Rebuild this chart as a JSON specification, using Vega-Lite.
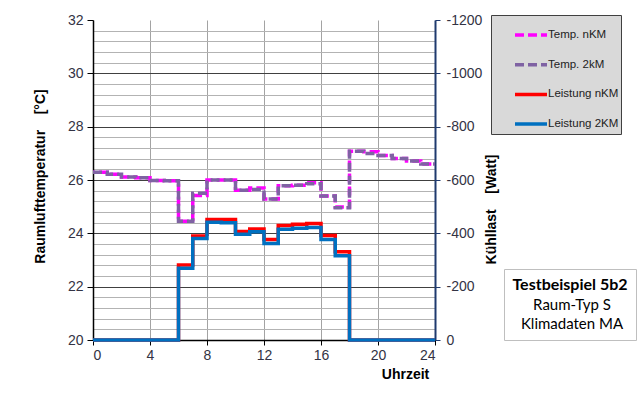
{
  "$schema": "https://vega.github.io/schema/vega-lite/v6.json",
  "width": 342,
  "height": 320,
  "autosize": {"type": "none"},
  "padding": {"left": 93, "top": 20, "right": 208, "bottom": 67},
  "background": "white",
  "datasets": {
    "series": [
      {"hour": 0, "series": "Temp. nKM", "value": 26.29},
      {"hour": 1, "series": "Temp. nKM", "value": 26.22},
      {"hour": 2, "series": "Temp. nKM", "value": 26.11},
      {"hour": 3, "series": "Temp. nKM", "value": 26.08},
      {"hour": 4, "series": "Temp. nKM", "value": 25.98},
      {"hour": 5, "series": "Temp. nKM", "value": 25.97},
      {"hour": 6, "series": "Temp. nKM", "value": 24.45},
      {"hour": 7, "series": "Temp. nKM", "value": 25.42},
      {"hour": 8, "series": "Temp. nKM", "value": 26.0},
      {"hour": 9, "series": "Temp. nKM", "value": 26.0},
      {"hour": 10, "series": "Temp. nKM", "value": 25.62},
      {"hour": 11, "series": "Temp. nKM", "value": 25.7},
      {"hour": 12, "series": "Temp. nKM", "value": 25.29},
      {"hour": 13, "series": "Temp. nKM", "value": 25.78},
      {"hour": 14, "series": "Temp. nKM", "value": 25.8},
      {"hour": 15, "series": "Temp. nKM", "value": 25.9},
      {"hour": 16, "series": "Temp. nKM", "value": 25.4},
      {"hour": 17, "series": "Temp. nKM", "value": 24.99},
      {"hour": 18, "series": "Temp. nKM", "value": 27.08},
      {"hour": 19, "series": "Temp. nKM", "value": 27.06},
      {"hour": 20, "series": "Temp. nKM", "value": 26.92},
      {"hour": 21, "series": "Temp. nKM", "value": 26.81},
      {"hour": 22, "series": "Temp. nKM", "value": 26.71},
      {"hour": 23, "series": "Temp. nKM", "value": 26.6},
      {"hour": 24, "series": "Temp. nKM", "value": 26.6},
      {"hour": 0, "series": "Temp. 2kM", "value": 26.29},
      {"hour": 1, "series": "Temp. 2kM", "value": 26.22},
      {"hour": 2, "series": "Temp. 2kM", "value": 26.11},
      {"hour": 3, "series": "Temp. 2kM", "value": 26.08},
      {"hour": 4, "series": "Temp. 2kM", "value": 25.98},
      {"hour": 5, "series": "Temp. 2kM", "value": 25.97},
      {"hour": 6, "series": "Temp. 2kM", "value": 24.45},
      {"hour": 7, "series": "Temp. 2kM", "value": 25.5},
      {"hour": 8, "series": "Temp. 2kM", "value": 26.0},
      {"hour": 9, "series": "Temp. 2kM", "value": 26.0},
      {"hour": 10, "series": "Temp. 2kM", "value": 25.62},
      {"hour": 11, "series": "Temp. 2kM", "value": 25.64},
      {"hour": 12, "series": "Temp. 2kM", "value": 25.29},
      {"hour": 13, "series": "Temp. 2kM", "value": 25.78},
      {"hour": 14, "series": "Temp. 2kM", "value": 25.8},
      {"hour": 15, "series": "Temp. 2kM", "value": 25.86},
      {"hour": 16, "series": "Temp. 2kM", "value": 25.4},
      {"hour": 17, "series": "Temp. 2kM", "value": 24.96},
      {"hour": 18, "series": "Temp. 2kM", "value": 27.08},
      {"hour": 19, "series": "Temp. 2kM", "value": 26.99},
      {"hour": 20, "series": "Temp. 2kM", "value": 26.92},
      {"hour": 21, "series": "Temp. 2kM", "value": 26.81},
      {"hour": 22, "series": "Temp. 2kM", "value": 26.71},
      {"hour": 23, "series": "Temp. 2kM", "value": 26.6},
      {"hour": 24, "series": "Temp. 2kM", "value": 26.6},
      {"hour": 0, "series": "Leistung nKM", "value": 0},
      {"hour": 1, "series": "Leistung nKM", "value": 0},
      {"hour": 2, "series": "Leistung nKM", "value": 0},
      {"hour": 3, "series": "Leistung nKM", "value": 0},
      {"hour": 4, "series": "Leistung nKM", "value": 0},
      {"hour": 5, "series": "Leistung nKM", "value": 0},
      {"hour": 6, "series": "Leistung nKM", "value": -281},
      {"hour": 7, "series": "Leistung nKM", "value": -390},
      {"hour": 8, "series": "Leistung nKM", "value": -452},
      {"hour": 9, "series": "Leistung nKM", "value": -452},
      {"hour": 10, "series": "Leistung nKM", "value": -407},
      {"hour": 11, "series": "Leistung nKM", "value": -416},
      {"hour": 12, "series": "Leistung nKM", "value": -377},
      {"hour": 13, "series": "Leistung nKM", "value": -429},
      {"hour": 14, "series": "Leistung nKM", "value": -434},
      {"hour": 15, "series": "Leistung nKM", "value": -437},
      {"hour": 16, "series": "Leistung nKM", "value": -392},
      {"hour": 17, "series": "Leistung nKM", "value": -331},
      {"hour": 18, "series": "Leistung nKM", "value": 0},
      {"hour": 19, "series": "Leistung nKM", "value": 0},
      {"hour": 20, "series": "Leistung nKM", "value": 0},
      {"hour": 21, "series": "Leistung nKM", "value": 0},
      {"hour": 22, "series": "Leistung nKM", "value": 0},
      {"hour": 23, "series": "Leistung nKM", "value": 0},
      {"hour": 24, "series": "Leistung nKM", "value": 0},
      {"hour": 0, "series": "Leistung 2KM", "value": 0},
      {"hour": 1, "series": "Leistung 2KM", "value": 0},
      {"hour": 2, "series": "Leistung 2KM", "value": 0},
      {"hour": 3, "series": "Leistung 2KM", "value": 0},
      {"hour": 4, "series": "Leistung 2KM", "value": 0},
      {"hour": 5, "series": "Leistung 2KM", "value": 0},
      {"hour": 6, "series": "Leistung 2KM", "value": -269},
      {"hour": 7, "series": "Leistung 2KM", "value": -381},
      {"hour": 8, "series": "Leistung 2KM", "value": -442},
      {"hour": 9, "series": "Leistung 2KM", "value": -440},
      {"hour": 10, "series": "Leistung 2KM", "value": -397},
      {"hour": 11, "series": "Leistung 2KM", "value": -406},
      {"hour": 12, "series": "Leistung 2KM", "value": -362},
      {"hour": 13, "series": "Leistung 2KM", "value": -415},
      {"hour": 14, "series": "Leistung 2KM", "value": -419},
      {"hour": 15, "series": "Leistung 2KM", "value": -422},
      {"hour": 16, "series": "Leistung 2KM", "value": -377},
      {"hour": 17, "series": "Leistung 2KM", "value": -316},
      {"hour": 18, "series": "Leistung 2KM", "value": 0},
      {"hour": 19, "series": "Leistung 2KM", "value": 0},
      {"hour": 20, "series": "Leistung 2KM", "value": 0},
      {"hour": 21, "series": "Leistung 2KM", "value": 0},
      {"hour": 22, "series": "Leistung 2KM", "value": 0},
      {"hour": 23, "series": "Leistung 2KM", "value": 0},
      {"hour": 24, "series": "Leistung 2KM", "value": 0}
    ],
    "info": [
      {"info": "Raum-Typ S"},
      {"info": "Klimadaten MA"}
    ]
  },
  "layer": [
    {
      "data": {"name": "series"},
      "encoding": {
        "x": {
          "field": "hour", "type": "quantitative",
          "scale": {"domain": [0, 24], "nice": false, "zero": false},
          "axis": {
            "values": [0, 4, 8, 12, 16, 20, 24],
            "labelExpr": "'' + datum.value",
            "grid": true, "gridColor": "#A3A3A3", "gridWidth": 1,
            "domainColor": "black", "domainWidth": 1.5,
            "tickColor": "black", "tickSize": 5,
            "labelFontSize": 14, "labelColor": "#333344", "labelPadding": 3,
            "labelFont": "Liberation Sans",
            "title": "Uhrzeit", "titleFontSize": 14, "titleFontWeight": "bold", "titleColor": "black",
            "titleFont": "Liberation Sans",
            "titleX": 312, "titleY": 34, "titleAlign": "center", "titleBaseline": "middle"
          }
        },
        "y": {
          "field": "value", "type": "quantitative",
          "scale": {"domain": [20, 32], "nice": false, "zero": false},
          "axis": {
            "values": [20, 20.4, 20.8, 21.2, 21.6, 22, 22.4, 22.8, 23.2, 23.6, 24, 24.4, 24.8, 25.2, 25.6, 26, 26.4, 26.8, 27.2, 27.6, 28, 28.4, 28.8, 29.2, 29.6, 30, 30.4, 30.8, 31.2, 31.6, 32],
            "tickCount": 100,
            "labelOverlap": false,
            "labelExpr": "datum.value % 2 === 0 ? '' + datum.value : ''",
            "grid": true,
            "gridColor": {"condition": {"test": "datum.value % 2 === 0", "value": "#404040"}, "value": "#B3B3B3"},
            "gridOpacity": {"condition": {"test": "datum.value >= 32", "value": 0}, "value": 1},
            "tickOpacity": {"condition": {"test": "datum.value % 2 === 0", "value": 1}, "value": 0},
            "domainColor": "black", "domainWidth": 1.5,
            "tickColor": "black", "tickSize": 6,
            "labelFontSize": 14, "labelColor": "#333344", "labelPadding": 4,
            "labelFont": "Liberation Sans",
            "title": "Raumlufttemperatur\u00a0\u00a0\u00a0\u00a0[°C]",
            "titleFontSize": 14, "titleFontWeight": "bold", "titleColor": "black",
            "titleFont": "Liberation Sans",
            "titleAngle": -90, "titleX": -53, "titleY": 156,
            "titleAlign": "center", "titleBaseline": "middle"
          }
        },
        "color": {
          "field": "series", "type": "nominal",
          "scale": {"domain": ["Temp. nKM", "Temp. 2kM", "Leistung nKM", "Leistung 2KM"], "range": ["#FF00FF", "#7F62A3", "#FF0000", "#0070C0"]},
          "legend": {"title": null}
        },
        "strokeDash": {
          "field": "series", "type": "nominal",
          "scale": {"domain": ["Temp. nKM", "Temp. 2kM", "Leistung nKM", "Leistung 2KM"], "range": [[9, 4], [9, 4], [1, 0], [1, 0]]},
          "legend": {"title": null}
        }
      },
      "layer": [
        {
          "transform": [{"filter": "datum.series === 'Temp. nKM'"}],
          "mark": {"type": "line", "interpolate": "step-after", "strokeWidth": 3.5, "strokeDashOffset": 7}
        },
        {
          "transform": [{"filter": "datum.series === 'Temp. 2kM'"}],
          "mark": {"type": "line", "interpolate": "step-after", "strokeWidth": 3.5}
        }
      ]
    },
    {
      "data": {"name": "series"},
      "encoding": {
        "x": {
          "field": "hour", "type": "quantitative",
          "scale": {"domain": [0, 24], "nice": false, "zero": false}
        },
        "y": {
          "field": "value", "type": "quantitative",
          "scale": {"domain": [0, -1200], "nice": false, "zero": false},
          "axis": {
            "orient": "right",
            "values": [0, -200, -400, -600, -800, -1000, -1200],
            "labelOverlap": false,
            "labelExpr": "'' + datum.value",
            "grid": false,
            "domainColor": "#1F3A6E", "domainWidth": 2,
            "tickColor": "#1F3A6E", "tickSize": 5,
            "labelFontSize": 14, "labelColor": "#333344", "labelPadding": 6,
            "labelFont": "Liberation Sans",
            "title": "Kühllast\u00a0\u00a0\u00a0\u00a0[Watt]",
            "titleFontSize": 14, "titleFontWeight": "bold", "titleColor": "black",
            "titleFont": "Liberation Sans",
            "titleAngle": -90, "titleX": 56, "titleY": 189,
            "titleAlign": "center", "titleBaseline": "middle"
          }
        },
        "color": {
          "field": "series", "type": "nominal",
          "scale": {"domain": ["Temp. nKM", "Temp. 2kM", "Leistung nKM", "Leistung 2KM"], "range": ["#FF00FF", "#7F62A3", "#FF0000", "#0070C0"]},
          "legend": {"title": null}
        },
        "strokeDash": {
          "field": "series", "type": "nominal",
          "scale": {"domain": ["Temp. nKM", "Temp. 2kM", "Leistung nKM", "Leistung 2KM"], "range": [[9, 4], [9, 4], [1, 0], [1, 0]]},
          "legend": {"title": null}
        }
      },
      "layer": [
        {
          "transform": [{"filter": "datum.series === 'Leistung nKM'"}],
          "mark": {"type": "line", "interpolate": "step-after", "strokeWidth": 3.5}
        },
        {
          "transform": [{"filter": "datum.series === 'Leistung 2KM'"}],
          "mark": {"type": "line", "interpolate": "step-after", "strokeWidth": 3.5}
        }
      ]
    },
    {
      "data": {"name": "info"},
      "mark": {"type": "point", "opacity": 0},
      "encoding": {
        "shape": {
          "field": "info", "type": "nominal",
          "scale": {"domain": ["Raum-Typ S", "Klimadaten MA"]},
          "legend": {
            "title": "Testbeispiel 5b2",
            "orient": "none", "legendX": 411, "legendY": 249,
            "fillColor": "white", "strokeColor": "#BFBFBF",
            "padding": 8,
            "titleFont": "Lato", "titleFontSize": 16, "titleFontWeight": "bold", "titleColor": "black",
            "titleAnchor": "middle", "titleAlign": "center", "titlePadding": 4,
            "labelFont": "Lato", "labelFontSize": 15, "labelColor": "black",
            "labelExpr": "datum.label",
            "labelAlign": "center", "labelOffset": 41,
            "symbolOpacity": 0, "symbolSize": 0, "symbolOffset": 0,
            "rowPadding": 3
          }
        }
      }
    }
  ],
  "resolve": {"scale": {"y": "independent"}},
  "config": {
    "view": {"fill": "#D9D9D9", "stroke": null},
    "font": "Liberation Sans",
    "legend": {
      "orient": "none", "legendX": 398, "legendY": -5,
      "fillColor": "#D9D9D9", "strokeColor": "#404040",
      "padding": 2,
      "symbolType": "stroke", "symbolSize": 1024, "symbolStrokeWidth": 3.5,
      "symbolOffset": 20,
      "labelFont": "Liberation Sans", "labelFontSize": 11.5, "labelColor": "#222222",
      "labelExpr": "datum.label + '\u00a0\u00a0\u00a0\u00a0\u00a0\u00a0\u00a0\u00a0\u00a0\u00a0\u00a0\u00a0\u00a0'",
      "labelOffset": -1, "rowPadding": 4.7
    }
  }
}
